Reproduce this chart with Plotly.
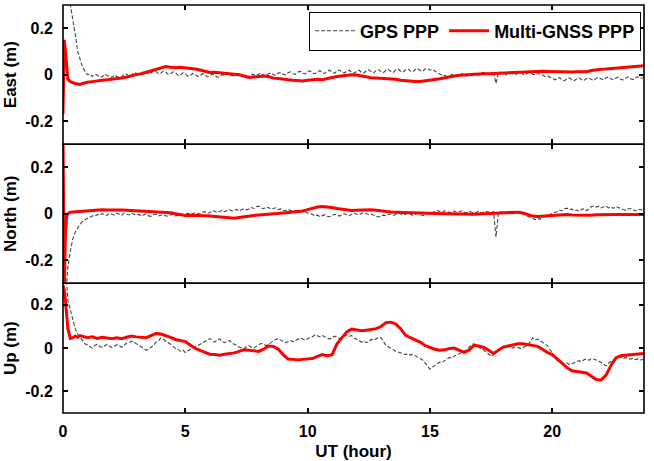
import numpy as np
import plotly.graph_objects as go
from plotly.subplots import make_subplots

# time grids (hours)
head_hours = [0, 0.05, 0.1, 0.15, 0.2, 0.3, 0.4, 0.5, 0.6, 0.7, 0.8, 0.9, 1.0]
hours = head_hours + [round(v, 2) for v in np.arange(1.2, 23.61, 0.2)] + [23.75]
gps_hours = head_hours + [round(v, 2) for v in np.arange(1.1, 23.71, 0.1)]

east_gps = [0.9, 0.8, 0.65, 0.5, 0.4, 0.3, 0.245, 0.175, 0.1, 0.06, 0.032, 0.015, 0.0,
    0.004, -0.008, 0.001, -0.002, -0.011, -0.009, 0.002, -0.004, -0.006, -0.012,
    -0.002, -0.006, -0.013, -0.01, 0.003, 0.002, -0.007, -0.004, 0.009, 0.006,
    -0.001, 0.002, 0.014, 0.012, 0.003, 0.008, 0.016, 0.014, 0.004, 0.006,
    0.015, 0.011, 0.001, 0.004, 0.012, 0.009, -0.003, -0.001, 0.008, 0.004,
    -0.006, -0.004, 0.005, 0.002, -0.008, -0.005, 0.004, 0.0, -0.009, -0.007,
    0.003, -0.002, -0.011, -0.009, 0.001, -0.003, 0.006, 0.003, -0.005, -0.002,
    0.006, 0.004, -0.006, -0.004, -0.01, -0.008, 0.002, -0.001, -0.005, 0.003,
    0.006, -0.003, -0.005, 0.004, 0.008, 0.0, -0.004, 0.007, 0.009, 0.002,
    -0.001, 0.008, 0.012, 0.004, 0.001, 0.011, 0.014, 0.006, 0.003, 0.012,
    0.016, 0.007, 0.004, 0.013, 0.017, 0.008, 0.005, 0.015, 0.019, 0.01,
    0.006, 0.017, 0.02, 0.011, 0.007, 0.015, 0.019, 0.009, 0.006, 0.014,
    0.019, 0.01, 0.007, 0.017, 0.021, 0.012, 0.008, 0.018, 0.022, 0.013,
    0.009, 0.019, 0.023, 0.014, 0.01, 0.02, 0.024, 0.015, 0.011, 0.021,
    0.025, 0.016, 0.012, 0.022, 0.026, 0.018, 0.014, 0.024, 0.027, 0.019,
    0.022, 0.016, 0.01, 0.004, -0.004, -0.003, -0.008, -0.006, 0.001, -0.002,
    -0.008, -0.005, 0.003, 0.001, -0.006, -0.002, 0.004, 0.006, -0.001, 0.002,
    0.008, 0.009, 0.0, 0.004, 0.002, 0.006, -0.038, 0.008, 0.011, 0.003,
    -0.001, 0.008, 0.011, 0.002, 0.0, 0.007, 0.01, 0.003, -0.001, 0.008,
    0.009, 0.002, -0.001, 0.005, 0.003, -0.002, -0.008, -0.006, -0.01, -0.014,
    -0.022, -0.017, -0.013, -0.022, -0.026, -0.018, -0.014, -0.023, -0.026, -0.018,
    -0.014, -0.022, -0.025, -0.017, -0.013, -0.021, -0.024, -0.015, -0.012, -0.019,
    -0.023, -0.013, -0.01, -0.018, -0.022, -0.014, -0.011, -0.02, -0.023, -0.014,
    -0.01, -0.018, -0.021, -0.012, -0.009, -0.016, -0.013]

east_multi = [-0.17, 0.15, 0.10, 0.02, -0.02, -0.03, -0.035, -0.038, -0.04, -0.042, -0.038, -0.035, -0.033,
    -0.03, -0.026, -0.024, -0.022, -0.02, -0.017, -0.014, -0.01, -0.004, 0.0,
    0.004, 0.01, 0.016, 0.022, 0.03, 0.035, 0.032, 0.03, 0.032, 0.03,
    0.027, 0.024, 0.02, 0.014, 0.009, 0.01, 0.007, 0.005, 0.004, 0.002,
    0.0, -0.006, -0.012, -0.01, -0.008, -0.006, -0.008, -0.015, -0.017, -0.018,
    -0.022, -0.024, -0.026, -0.027, -0.024, -0.021, -0.02, -0.022, -0.016, -0.012,
    -0.008, -0.005, -0.003, 0.0, -0.002, -0.006, -0.011, -0.013, -0.014, -0.015,
    -0.016, -0.017, -0.02, -0.024, -0.027, -0.028, -0.03, -0.03, -0.028, -0.025,
    -0.021, -0.018, -0.013, -0.009, -0.006, -0.003, -0.001, 0.0, 0.002, 0.003,
    0.004, 0.004, 0.005, 0.006, 0.008, 0.009, 0.011, 0.013, 0.014, 0.015,
    0.016, 0.016, 0.015, 0.014, 0.013, 0.012, 0.011, 0.011, 0.011, 0.012,
    0.013, 0.013, 0.018, 0.022, 0.023, 0.024, 0.026, 0.027, 0.03, 0.033,
    0.035, 0.036, 0.037, 0.038]

north_gps = [-0.5, -0.45, -0.35, -0.3, -0.23, -0.16, -0.11, -0.08, -0.06, -0.045, -0.033, -0.025, -0.019,
    -0.016, -0.009, -0.011, -0.003, -0.007, 0.001, -0.004, -0.007, 0.002, -0.001,
    -0.006, 0.002, -0.003, -0.007, 0.003, 0.0, -0.005, 0.003, -0.002, -0.006,
    -0.003, -0.01, -0.005, -0.001, -0.009, -0.011, -0.004, -0.002, -0.01, -0.007,
    -0.003, -0.009, -0.011, -0.004, -0.002, -0.009, -0.007, -0.001, -0.005, -0.002,
    0.003, -0.004, -0.001, 0.005, 0.001, 0.0, 0.007, 0.009, 0.002, 0.004,
    0.011, 0.012, 0.005, 0.01, 0.015, 0.009, 0.013, 0.018, 0.012, 0.014,
    0.019, 0.012, 0.016, 0.022, 0.017, 0.02, 0.027, 0.023, 0.03, 0.033,
    0.026, 0.022, 0.029, 0.027, 0.02, 0.023, 0.026, 0.018, 0.021, 0.015,
    0.013, 0.02, 0.016, 0.009, 0.013, 0.015, 0.007, 0.01, 0.008, 0.003,
    0.002, -0.004, -0.009, -0.006, -0.012, -0.008, -0.004, -0.011, -0.013, -0.007,
    -0.002, -0.006, -0.01, -0.004, 0.001, -0.004, -0.008, -0.002, 0.003, -0.002,
    -0.005, 0.001, 0.005, 0.0, -0.004, -0.002, -0.007, -0.01, -0.014, -0.01,
    -0.006, -0.009, -0.003, 0.0, -0.007, -0.004, 0.002, 0.0, -0.006, -0.002,
    0.003, -0.001, -0.007, -0.002, 0.002, -0.003, -0.008, -0.004, 0.001, -0.002,
    0.006, 0.011, 0.014, 0.01, 0.006, 0.013, 0.011, 0.005, 0.008, 0.012,
    0.005, 0.009, 0.013, 0.006, 0.004, 0.011, 0.008, 0.003, 0.007, 0.012,
    0.004, 0.006, 0.01, 0.008, 0.003, 0.009, -0.1, 0.004, 0.009, 0.005,
    0.002, 0.01, 0.006, 0.001, 0.008, 0.005, -0.002, 0.001, -0.006, -0.01,
    -0.016, -0.021, -0.025, -0.019, -0.024, -0.014, -0.011, -0.006, -0.004, 0.002,
    0.004, 0.009, 0.016, 0.012, 0.021, 0.024, 0.018, 0.02, 0.013, 0.016,
    0.01, 0.019, 0.022, 0.014, 0.02, 0.031, 0.034, 0.029, 0.033, 0.025,
    0.03, 0.033, 0.025, 0.029, 0.023, 0.031, 0.027, 0.021, 0.018, 0.015,
    0.021, 0.023, 0.016, 0.012, 0.017, 0.019, 0.013]

north_multi = [0.35, -0.35, -0.08, -0.01, 0.0, 0.007, 0.008, 0.009, 0.01, 0.01, 0.011, 0.012, 0.013,
    0.014, 0.016, 0.017, 0.016, 0.017, 0.017, 0.016, 0.015, 0.014, 0.013,
    0.012, 0.011, 0.01, 0.009, 0.008, 0.007, 0.004, 0.0, -0.005, -0.007,
    -0.006, -0.008, -0.008, -0.009, -0.01, -0.012, -0.012, -0.014, -0.017, -0.019,
    -0.016, -0.012, -0.009, -0.007, -0.005, -0.004, -0.002, 0.0, 0.002, 0.003,
    0.005, 0.007, 0.009, 0.012, 0.018, 0.024, 0.029, 0.031, 0.03, 0.027,
    0.023, 0.019, 0.016, 0.014, 0.015, 0.016, 0.017, 0.017, 0.015, 0.012,
    0.01, 0.008, 0.007, 0.006, 0.005, 0.004, 0.003, 0.003, 0.002, 0.001,
    0.0, 0.0, 0.0, 0.0, -0.001, -0.002, -0.003, -0.003, -0.002, -0.001,
    0.0, 0.002, 0.004, 0.006, 0.006, 0.007, 0.007, 0.007, 0.003, -0.005,
    -0.01, -0.012, -0.01, -0.008, -0.007, -0.005, -0.004, -0.003, -0.005, -0.006,
    -0.007, -0.008, -0.006, -0.004, -0.003, -0.003, -0.003, -0.003, -0.003, -0.003,
    -0.003, -0.003, -0.003, -0.003]

up_gps = [0.7, 0.55, 0.4, 0.3, 0.22, 0.176, 0.13, 0.09, 0.065, 0.048, 0.032, 0.02, 0.014,
    0.008, 0.0, 0.012, 0.018, 0.009, 0.003, 0.011, 0.017, 0.01, 0.002,
    0.009, 0.016, 0.011, 0.004, 0.013, 0.024, 0.026, 0.033, 0.028, 0.02,
    0.016, 0.008, 0.0, -0.01, -0.004, 0.006, 0.012, 0.027, 0.033, 0.047,
    0.042, 0.032, 0.026, 0.018, 0.008, -0.002, -0.006, -0.014, -0.009, -0.02,
    -0.013, -0.005, 0.0, 0.008, 0.011, 0.018, 0.024, 0.033, 0.037, 0.044,
    0.034, 0.028, 0.036, 0.043, 0.032, 0.025, 0.03, 0.036, 0.024, 0.016,
    0.012, 0.005, 0.002, -0.003, 0.006, 0.012, 0.004, 0.0, 0.008, 0.014,
    0.022, 0.017, 0.012, 0.018, 0.027, 0.033, 0.04, 0.045, 0.037, 0.032,
    0.025, 0.03, 0.035, 0.029, 0.034, 0.041, 0.047, 0.042, 0.036, 0.043,
    0.048, 0.053, 0.062, 0.057, 0.052, 0.058, 0.053, 0.047, 0.042, 0.048,
    0.055, 0.05, 0.044, 0.05, 0.056, 0.061, 0.055, 0.058, 0.047, 0.04,
    0.034, 0.028, 0.033, 0.025, 0.03, 0.04, 0.036, 0.044, 0.05, 0.048,
    0.03, 0.013, 0.006, -0.002, -0.01, -0.014, -0.018, -0.022, -0.026, -0.03,
    -0.025, -0.032, -0.029, -0.036, -0.04, -0.046, -0.055, -0.068, -0.082, -0.097,
    -0.088, -0.078, -0.072, -0.064, -0.066, -0.058, -0.052, -0.043, -0.046, -0.036,
    -0.032, -0.026, -0.022, -0.016, -0.008, 0.004, 0.016, 0.02, 0.013, 0.008,
    0.0, -0.01, -0.018, -0.028, -0.038, -0.03, -0.018, -0.008, 0.002, 0.007,
    0.004, 0.01, 0.006, 0.0, 0.007, 0.004, -0.002, 0.003, 0.006, 0.012,
    0.03, 0.048, 0.038, 0.042, 0.034, 0.026, 0.02, 0.012, -0.005, -0.022,
    -0.04, -0.058, -0.062, -0.066, -0.072, -0.069, -0.076, -0.073, -0.068, -0.062,
    -0.058, -0.063, -0.054, -0.05, -0.056, -0.048, -0.05, -0.055, -0.06, -0.068,
    -0.078, -0.082, -0.07, -0.062, -0.052, -0.044, -0.038, -0.042, -0.048, -0.043,
    -0.046, -0.051, -0.047, -0.053, -0.05, -0.055, -0.052]

up_multi = [0.29, 0.27, 0.22, 0.15, 0.09, 0.045, 0.048, 0.055, 0.05, 0.058, 0.055, 0.05, 0.048,
    0.052, 0.045, 0.05, 0.047, 0.044, 0.048, 0.044, 0.05, 0.056, 0.052,
    0.05, 0.048, 0.058, 0.068, 0.065, 0.058, 0.05, 0.04, 0.035, 0.03,
    0.015, 0.0, -0.01, -0.02, -0.028, -0.03, -0.033, -0.028, -0.025, -0.022,
    -0.015, -0.008, -0.01, -0.012, -0.015, -0.005, 0.01, 0.008, -0.005, -0.03,
    -0.05, -0.052, -0.055, -0.052, -0.05, -0.048, -0.038, -0.03, -0.035, -0.03,
    0.02, 0.05, 0.075, 0.088, 0.085, 0.08, 0.083, 0.085, 0.09, 0.1,
    0.118, 0.12, 0.112, 0.09, 0.06, 0.048, 0.038, 0.028, 0.012, 0.002,
    -0.005, -0.01, -0.008, -0.002, 0.0, -0.01, -0.02, -0.01, 0.013, 0.01,
    0.003, -0.01, -0.025, -0.01, 0.005, 0.01, 0.015, 0.02, 0.02, 0.016,
    0.012, 0.008, -0.005, -0.02, -0.03, -0.05, -0.07, -0.09, -0.105, -0.11,
    -0.112, -0.115, -0.13, -0.145, -0.147, -0.125, -0.08, -0.045, -0.035, -0.033,
    -0.033, -0.03, -0.028, -0.025]

panel_titles = ["East (m)", "North (m)", "Up (m)"]
x_ticks = [0, 5, 10, 15, 20]
y_ticks = [-0.2, 0, 0.2]
y_ticklabels = ["-0.2", "0", "0.2"]
series_names = ["GPS PPP", "Multi-GNSS PPP"]

fig = make_subplots(rows=3, cols=1, shared_xaxes=True, vertical_spacing=0)

gps_sets = [east_gps, north_gps, up_gps]
multi_sets = [east_multi, north_multi, up_multi]
for i in range(3):
    n = min(len(gps_hours), len(gps_sets[i]))
    m = min(len(hours), len(multi_sets[i]))
    fig.add_trace(go.Scatter(x=gps_hours[:n], y=gps_sets[i][:n], mode="lines",
                             name=series_names[0],
                             line=dict(color="#454545", width=1.1, dash="4px,2px"),
                             showlegend=(i == 0)), row=i + 1, col=1)
    fig.add_trace(go.Scatter(x=hours[:m], y=multi_sets[i][:m], mode="lines",
                             name=series_names[1],
                             line=dict(color="#ff0000", width=3),
                             showlegend=(i == 0)), row=i + 1, col=1)

domains = [[0.6586, 1.0], [0.318, 0.6586], [0.0, 0.318]]
FONT = "Liberation Sans, Arial"
tickfont = dict(family=FONT, size=16, color="black", weight="bold")
for i in range(3):
    fig.update_yaxes(row=i + 1, col=1, domain=domains[i], range=[-0.3, 0.3],
                     tickvals=y_ticks, ticktext=y_ticklabels, ticks="inside", ticklen=5,
                     tickwidth=1.5, tickcolor="black", showline=True,
                     linecolor="rgba(0,0,0,0)", linewidth=1,
                     mirror="ticks", showgrid=False, zeroline=False,
                     tickfont=tickfont, automargin=False, ticklabelstandoff=6,
                     title=dict(text=panel_titles[i], standoff=4,
                                font=dict(family=FONT, size=17, color="black",
                                          weight="bold")))
    fig.update_xaxes(row=i + 1, col=1, range=[0, 23.75], tickvals=x_ticks,
                     ticks="inside", ticklen=5, tickwidth=1.5, tickcolor="black",
                     showline=True, linecolor="rgba(0,0,0,0)", linewidth=1,
                     mirror="ticks",
                     showgrid=False, zeroline=False, tickfont=tickfont,
                     showticklabels=(i == 2), automargin=False, ticklabelstandoff=4)
    # panel frame (adjacent frames share one border line)
    xr = "x domain" if i == 0 else f"x{i + 1} domain"
    yr = "y domain" if i == 0 else f"y{i + 1} domain"
    fig.add_shape(type="rect", xref=xr, yref=yr, x0=0, x1=1, y0=0, y1=1,
                  line=dict(color="black", width=1.6), fillcolor="rgba(0,0,0,0)",
                  layer="above")

fig.update_xaxes(row=3, col=1,
                 title=dict(text="UT (hour)", standoff=5,
                            font=dict(family=FONT, size=17, color="black",
                                      weight="bold")))

fig.update_layout(
    width=654, height=461,
    margin=dict(l=63, r=10, t=5, b=48),
    paper_bgcolor="white", plot_bgcolor="white",
    legend=dict(orientation="h", x=0.995, xanchor="right", y=0.984, yanchor="top",
                bgcolor="white", bordercolor="black", borderwidth=1,
                font=dict(family=FONT, size=18, color="black", weight="bold"),
                itemwidth=40, tracegroupgap=0),
)

fig.write_html("out.html", config={"displayModeBar": False},
               post_script="document.body.style.margin='0';")
